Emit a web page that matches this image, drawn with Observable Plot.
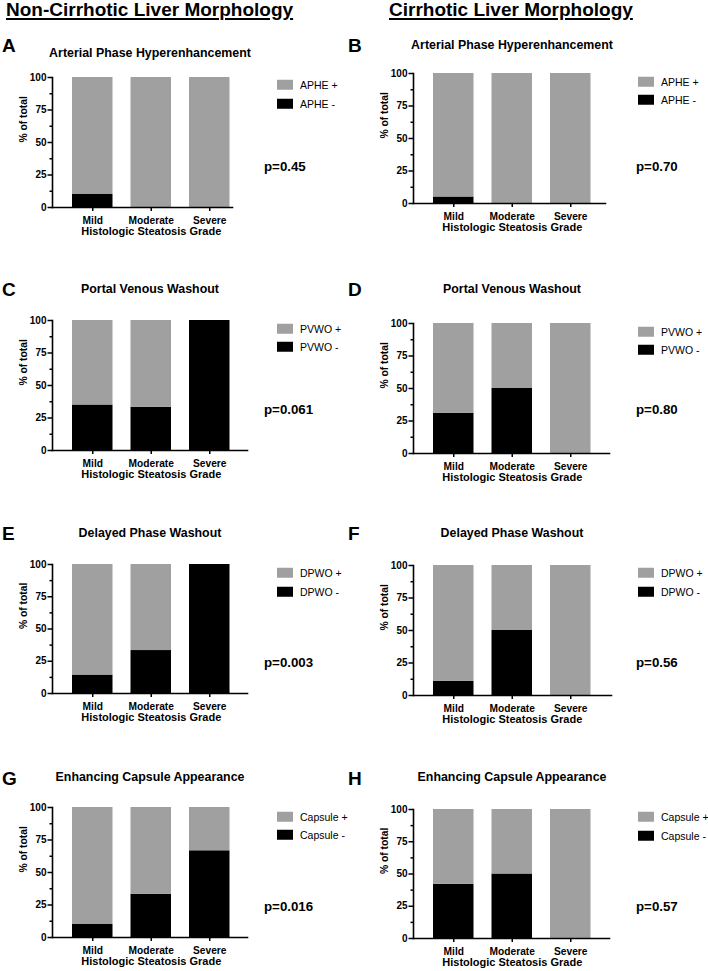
<!DOCTYPE html>
<html><head><meta charset="utf-8">
<script src="https://cdn.jsdelivr.net/npm/d3@7"></script>
<script src="https://cdn.jsdelivr.net/npm/@observablehq/plot@0.6"></script>
<style>
body{margin:0;background:#fff;}
#fig{position:relative;width:708px;height:971px;font-family:"Liberation Sans",Arial,sans-serif;color:#000;overflow:hidden;background:#fff}
.abs{position:absolute;white-space:nowrap;line-height:1}
.hdr{font-size:19px;font-weight:bold;text-decoration:underline;text-decoration-thickness:1.6px;text-underline-offset:2px}
.letter{font-size:19px;font-weight:bold;transform:translateY(-50%)}
.title{font-size:12.4px;font-weight:bold;transform:translate(-50%,-50%)}
.leg{font-size:10.5px;transform:translateY(-50%);display:flex;align-items:center}
.sw{display:inline-block;width:16px;height:10px;margin-right:7px}
.p{font-size:13.3px;font-weight:bold;transform:translateY(-50%)}
.panel{position:absolute}
.panel svg{max-width:none !important;overflow:visible}
</style></head><body><div id="fig"></div>
<script>
// ---------- data ----------
const grades = ["Mild", "Moderate", "Severe"];
const headers = ["Non-Cirrhotic Liver Morphology", "Cirrhotic Liver Morphology"];
const panelLetters = ["A", "B", "C", "D", "E", "F", "G", "H"];
const panelTitles = [
  "Arterial Phase Hyperenhancement", "Arterial Phase Hyperenhancement",
  "Portal Venous Washout", "Portal Venous Washout",
  "Delayed Phase Washout", "Delayed Phase Washout",
  "Enhancing Capsule Appearance", "Enhancing Capsule Appearance"
];
const plusLabels = ["APHE +", "APHE +", "PVWO +", "PVWO +", "DPWO +", "DPWO +", "Capsule +", "Capsule +"];
const minusLabels = ["APHE -", "APHE -", "PVWO -", "PVWO -", "DPWO -", "DPWO -", "Capsule -", "Capsule -"];
const pValues = ["p=0.45", "p=0.70", "p=0.061", "p=0.80", "p=0.003", "p=0.56", "p=0.016", "p=0.57"];
// % of total, negative (black) and positive (gray) per grade
const negA = [10, 0, 0],      posA = [90, 100, 100];
const negB = [5, 0, 0],       posB = [95, 100, 100];
const negC = [35, 33.3, 100], posC = [65, 66.7, 0];
const negD = [31, 50, 0],     posD = [69, 50, 100];
const negE = [14.3, 33.3, 100], posE = [85.7, 66.7, 0];
const negF = [10.8, 50, 0],   posF = [89.2, 50, 100];
const negG = [10, 33.3, 66.7], posG = [90, 66.7, 33.3];
const negH = [42, 50, 0],     posH = [58, 50, 100];
const negSeries = [negA, negB, negC, negD, negE, negF, negG, negH];
const posSeries = [posA, posB, posC, posD, posE, posF, posG, posH];
const yTicks = [0, 25, 50, 75, 100];
const yMinorTicks = [12.5, 37.5, 62.5, 87.5];
const yLabel = "% of total";
const xLabel = "Histologic Steatosis Grade";

// ---------- layout ----------
const GRAY = "#a0a0a0", BLACK = "#000000";
const cols = [
  {colX: 0, axisX: 52, letterX: 2, titleCX: 150, swX: 277, pX: 264, hdrX: 6},
  {colX: 354, axisX: 413, letterX: 348, titleCX: 512, swX: 638, pX: 636, hdrX: 389}
];
const layout = [
  {col: 0, top: 77, zero: 207, end: 232, titleY: 53, letterY: 45, legY: [85, 104], pY: 167},
  {col: 1, top: 73, zero: 203, end: 605, titleY: 45, letterY: 45, legY: [82, 100], pY: 167},
  {col: 0, top: 320, zero: 450, end: 247, titleY: 289, letterY: 289, legY: [329, 347], pY: 410},
  {col: 1, top: 323, zero: 453, end: 609, titleY: 289, letterY: 289, legY: [332, 350], pY: 410},
  {col: 0, top: 564, zero: 693, end: 247, titleY: 533, letterY: 533, legY: [573, 592], pY: 663},
  {col: 1, top: 565, zero: 695, end: 611, titleY: 533, letterY: 533, legY: [573, 592], pY: 663},
  {col: 0, top: 807, zero: 937, end: 247, titleY: 777, letterY: 778, legY: [817, 835], pY: 907},
  {col: 1, top: 809, zero: 938, end: 609, titleY: 777, letterY: 778, legY: [817, 836], pY: 907}
];

const fig = document.getElementById("fig");
function addDiv(cls, x, y, html) {
  const d = document.createElement("div");
  d.className = "abs " + cls;
  d.style.left = x + "px";
  d.style.top = y + "px";
  d.innerHTML = html;
  fig.appendChild(d);
  return d;
}

headers.forEach((h, c) => addDiv("hdr", cols[c].hdrX, 0, h));

layout.forEach((L, i) => {
  const C = cols[L.col];
  const mL = C.axisX - C.colX, mT = 8, mB = 40, mR = 10;
  const W = L.end - C.axisX;
  const H = L.zero - L.top;
  const gap = 20, step = 58.5, bw = 40.5;
  const pInner = 1 - bw / step;
  const pOuter = (W / step - 3 + pInner) / 2;
  const align = gap / (W - step * (3 - pInner));

  const rows = [];
  grades.forEach((g, k) => {
    rows.push({grade: g, status: minusLabels[i], value: negSeries[i][k]});
    rows.push({grade: g, status: plusLabels[i], value: posSeries[i][k]});
  });

  const chart = Plot.plot({
    width: mL + W + mR,
    height: mT + H + mB,
    marginLeft: mL, marginRight: mR, marginTop: mT, marginBottom: mB,
    style: {fontFamily: '"Liberation Sans", Arial, sans-serif', background: "transparent", color: "#000", overflow: "visible"},
    x: {domain: grades, paddingInner: pInner, paddingOuter: pOuter, align, round: false, label: null},
    y: {domain: [0, 100], label: null},
    color: {domain: [minusLabels[i], plusLabels[i]], range: [BLACK, GRAY]},
    marks: [
      Plot.barY(rows, {x: "grade", y: "value", fill: "status"}),
      Plot.frame({anchor: "left", strokeWidth: 1.6}),
      Plot.frame({anchor: "bottom", strokeWidth: 1.6}),
      Plot.axisY({ticks: yTicks, tickSize: 4.5, tickPadding: 1.5, fontSize: 10, fontWeight: "bold", strokeWidth: 1.5, label: null}),
      Plot.axisY({ticks: yMinorTicks, tickSize: 2.5, tickFormat: () => "", strokeWidth: 1.5, label: null}),
      Plot.axisX({tickSize: 4, tickPadding: 5, fontSize: 10.2, fontWeight: "bold", strokeWidth: 1.5, label: null}),
      Plot.text([yLabel], {frameAnchor: "left", rotate: -90, dx: -29, fontSize: 10.3, fontWeight: "bold"}),
      Plot.text([{g: grades[1], t: xLabel}], {x: "g", text: "t", frameAnchor: "bottom", dy: 27.5, fontSize: 11, fontWeight: "bold"})
    ]
  });
  const wrap = document.createElement("div");
  wrap.className = "panel";
  wrap.style.left = C.colX + "px";
  wrap.style.top = (L.top - mT) + "px";
  wrap.style.width = (mL + W + mR) + "px";
  wrap.appendChild(chart);
  fig.appendChild(wrap);

  addDiv("letter", C.letterX, L.letterY, panelLetters[i]);
  addDiv("title", C.titleCX, L.titleY, panelTitles[i]);
  addDiv("leg", C.swX, L.legY[0], `<span class="sw" style="background:${GRAY}"></span>${plusLabels[i]}`);
  addDiv("leg", C.swX, L.legY[1], `<span class="sw" style="background:${BLACK}"></span>${minusLabels[i]}`);
  addDiv("p", C.pX, L.pY, pValues[i]);
});
</script>
</body></html>
